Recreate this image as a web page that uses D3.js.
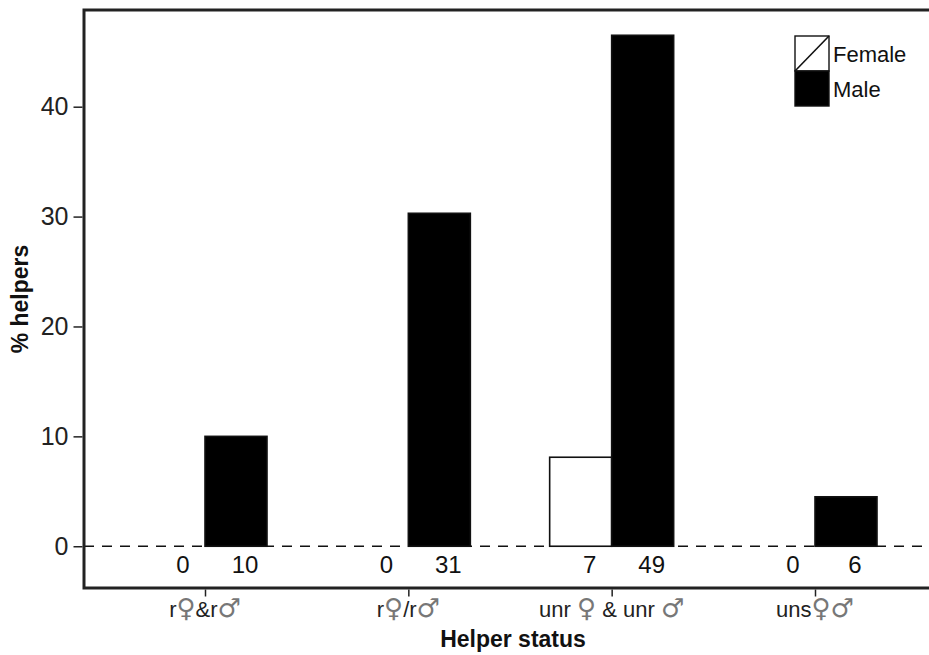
<!DOCTYPE html>
<html>
<head>
<meta charset="utf-8">
<script src="https://cdn.jsdelivr.net/npm/d3@7"></script>
<style>
  html, body { margin: 0; padding: 0; background: #fff; }
  svg { display: block; font-family: "Liberation Sans", Arial, sans-serif; }
</style>
</head>
<body>
<svg id="chart" width="929" height="655"></svg>
<script>
// Helper status categories (sex symbols drawn in grey)
const categories = ["r♀&r♂", "r♀/r♂", "unr ♀ & unr ♂", "uns♀♂"];
const sexes = ["Female", "Male"];
// Percentage of helpers per category
const femalePct = [0, 0, 8.1, 0];
const malePct = [10.0, 30.3, 46.5, 4.5];
// Sample sizes printed under the bars
const femaleN = [0, 0, 7, 0];
const maleN = [10, 31, 49, 6];
const yTicks = [0, 10, 20, 30, 40];

const svg = d3.select("#chart");
const pLeft = 84, pTop = 10, pRight = 942, pBottom = 588;

const x = d3.scalePoint().domain(categories).range([205, 815]);
const y = d3.scaleLinear().domain([-3.8, 48.8]).range([pBottom, pTop]);
const barW = 62;
const fill = { Female: "#fff", Male: "#000" };

const rows = [];
categories.forEach((c, i) => {
  rows.push({ cat: c, sex: "Female", v: femalePct[i], n: femaleN[i] });
  rows.push({ cat: c, sex: "Male", v: malePct[i], n: maleN[i] });
});
const bx = d => d.sex === "Female" ? x(d.cat) - barW : x(d.cat);

// dashed zero reference line
svg.append("line")
  .attr("x1", pLeft).attr("x2", pRight)
  .attr("y1", y(0)).attr("y2", y(0))
  .attr("stroke", "#111").attr("stroke-width", 1.6)
  .attr("stroke-dasharray", "10,8");

// bars
svg.append("g").selectAll("rect").data(rows).join("rect")
  .attr("x", bx)
  .attr("y", d => y(d.v))
  .attr("width", barW)
  .attr("height", d => y(0) - y(d.v))
  .attr("fill", d => fill[d.sex])
  .attr("stroke", "#111")
  .attr("stroke-width", 1.6);

// counts under bars
svg.append("g").selectAll("text").data(rows).join("text")
  .attr("x", d => bx(d) + barW / 2 + 9)
  .attr("y", y(0) + 27)
  .attr("text-anchor", "middle")
  .attr("font-size", 24)
  .attr("fill", "#111")
  .text(d => d.n);

// panel border: left, top and bottom
const frame = svg.append("g").attr("stroke", "#222").attr("stroke-width", 3).attr("fill", "none");
frame.append("path").attr("d", `M${pRight},${pTop}H${pLeft}V${pBottom}H${pRight}`);

// y axis
const yAxis = svg.append("g").attr("transform", `translate(${pLeft - 1.5},0)`)
  .call(d3.axisLeft(y).tickValues(yTicks).tickSize(9).tickPadding(5));
yAxis.select(".domain").remove();
yAxis.selectAll("line").attr("stroke", "#222").attr("stroke-width", 1.5);
yAxis.selectAll("text").attr("font-size", 25).attr("fill", "#222")
  .attr("font-family", "Liberation Sans, Arial, sans-serif");

// x axis
const xAxis = svg.append("g").attr("transform", `translate(0,${pBottom + 1.5})`)
  .call(d3.axisBottom(x).tickSize(7).tickPadding(4).tickFormat(""));
xAxis.select(".domain").remove();
xAxis.selectAll("line").attr("stroke", "#222").attr("stroke-width", 1.5);

// category labels with grey sex symbols
const catLabels = svg.append("g").selectAll("text").data(categories).join("text")
  .attr("x", d => x(d))
  .attr("y", 617)
  .attr("text-anchor", "middle")
  .attr("font-size", 22)
  .attr("fill", "#222");
catLabels.each(function(d) {
  const t = d3.select(this);
  for (const ch of d) {
    const sym = ch === "♀" || ch === "♂";
    t.append("tspan").text(ch)
      .attr("fill", sym ? "#777" : "#222")
      .attr("font-family", sym ? "DejaVu Sans" : null)
      .attr("font-size", sym ? 26 : null);
  }
});

// axis titles, centred on the panel
svg.append("text").attr("x", (pLeft + pRight) / 2).attr("y", 647)
  .attr("text-anchor", "middle").attr("font-size", 23).attr("font-weight", "bold")
  .attr("fill", "#111").text("Helper status");
svg.append("text")
  .attr("transform", `translate(28,${(pTop + pBottom) / 2}) rotate(-90)`)
  .attr("text-anchor", "middle").attr("font-size", 23).attr("font-weight", "bold")
  .attr("fill", "#111").text("% helpers");

// legend
const lg = svg.append("g").attr("transform", "translate(795,36)");
const key = 35;
sexes.forEach((s, i) => {
  const g = lg.append("g").attr("transform", `translate(0,${i * key})`);
  g.append("rect").attr("width", key - 1).attr("height", key)
    .attr("fill", fill[s]).attr("stroke", "#111").attr("stroke-width", 1.4);
  if (s === "Female") {
    g.append("line").attr("x1", 0).attr("y1", key).attr("x2", key - 1).attr("y2", 0)
      .attr("stroke", "#111").attr("stroke-width", 1.6);
  }
  g.append("text").attr("x", key + 3).attr("y", key / 2 + 8)
    .attr("font-size", 22).attr("fill", "#111").text(s);
});
</script>
</body>
</html>
